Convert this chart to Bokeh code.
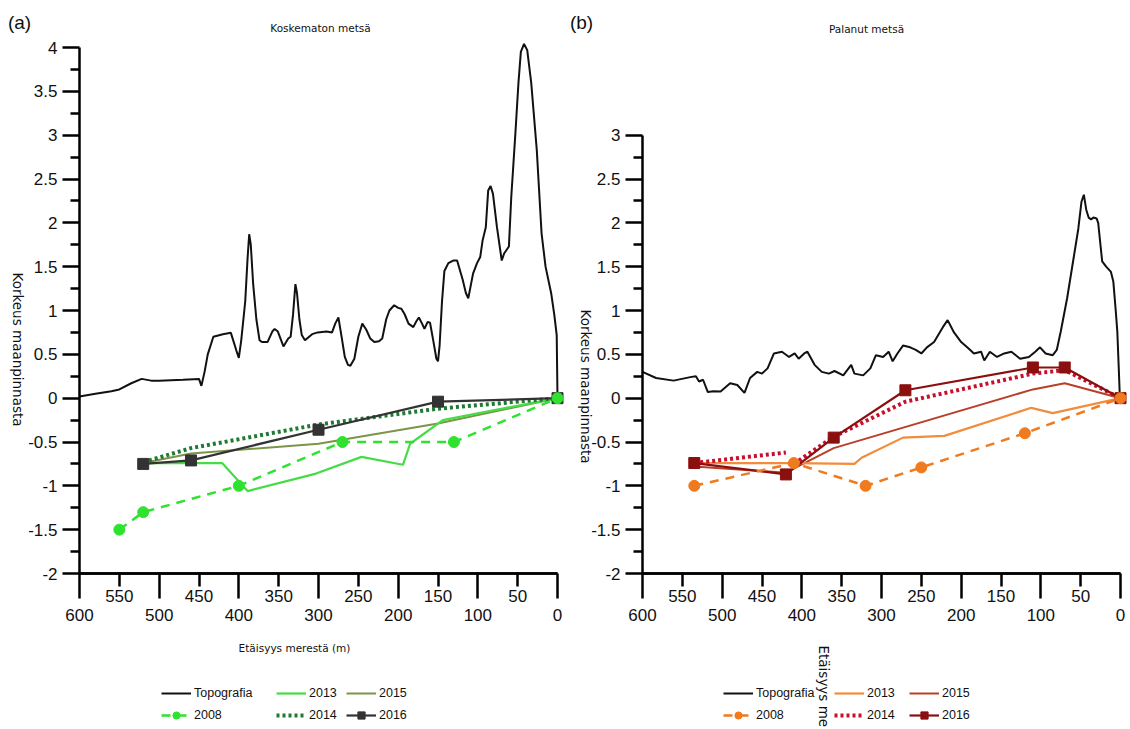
import math
from bokeh.plotting import figure
from bokeh.models import Range1d, LinearAxis, FixedTicker, Label, Legend, LegendItem
from bokeh.layouts import row
from bokeh.embed import file_html
from bokeh.resources import INLINE

# ---------------- data: panel (a) Koskematon metsä ----------------
a_topo_x = [600, 580, 560, 550, 535, 522, 510, 500, 470, 450, 447, 443, 439, 432, 420, 410, 403, 400, 397, 392,
            389, 387, 385, 382, 378, 374, 371, 364, 358, 355, 351, 344, 338, 335, 332, 329, 327, 324, 321, 317,
            308, 301, 290, 283, 279, 275, 271, 267, 263, 260, 255, 250, 245, 240, 235, 230, 224, 220, 215, 211,
            205, 200, 196, 192, 187, 181, 177, 174, 170, 167, 163, 160, 156, 152, 150, 148, 145, 142, 137, 131,
            126, 119, 115, 112, 106, 101, 97, 94, 90, 87, 84, 81, 76, 70, 67, 61, 58, 53, 49, 46,
            42, 38, 33, 26, 20, 15, 8, 4, 1, 0]
a_topo_y = [0.02, 0.05, 0.08, 0.10, 0.17, 0.22, 0.20, 0.20, 0.21, 0.22, 0.14, 0.30, 0.50, 0.70, 0.73, 0.745, 0.54, 0.46, 0.66, 1.10,
            1.60, 1.87, 1.75, 1.30, 0.90, 0.66, 0.64, 0.64, 0.76, 0.79, 0.76, 0.59, 0.68, 0.70, 0.95, 1.30, 1.20, 0.90, 0.72, 0.66,
            0.73, 0.75, 0.76, 0.75, 0.85, 0.92, 0.70, 0.47, 0.38, 0.37, 0.45, 0.70, 0.85, 0.78, 0.68, 0.64, 0.65, 0.68, 0.90, 1.00,
            1.06, 1.03, 1.02, 0.96, 0.85, 0.81, 0.88, 0.92, 0.85, 0.79, 0.87, 0.86, 0.66, 0.45, 0.42, 0.60, 1.10, 1.45, 1.54, 1.57,
            1.57, 1.35, 1.20, 1.14, 1.42, 1.54, 1.61, 1.80, 1.95, 2.37, 2.42, 2.33, 1.95, 1.57, 1.65, 1.73, 2.30, 3.00, 3.60, 3.95,
            4.04, 3.97, 3.60, 2.83, 1.88, 1.50, 1.20, 0.95, 0.72, 0.0]
a_2008_x = [550, 520, 400, 270, 130, 0]
a_2008_y = [-1.50, -1.30, -1.00, -0.50, -0.50, 0.0]
a_2013_x = [520, 421, 389, 303, 246, 194, 185, 144, 0]
a_2013_y = [-0.74, -0.74, -1.06, -0.86, -0.67, -0.76, -0.52, -0.25, 0.0]
a_2014_x = [520, 460, 300, 150, 0]
a_2014_y = [-0.73, -0.57, -0.30, -0.12, 0.0]
a_2015_x = [520, 460, 300, 150, 0]
a_2015_y = [-0.74, -0.63, -0.52, -0.29, 0.0]
a_2016_x = [520, 460, 300, 150, 0]
a_2016_y = [-0.75, -0.71, -0.36, -0.04, 0.0]

# ---------------- data: panel (b) Palanut metsä ----------------
nan = float("nan")
b_topo_x = [600, 583, 561, 540, 533, 529, 524, 518, 511, 502, 490, 481, 472, 465, 456, 450, 443, 435, 425, 416,
            409, 404, 397, 393, 384, 375, 366, 359, 348, 338, 334, 323, 314, 307, 298, 291, 286, 280, 273, 264,
            257, 250, 243, 234, 223, 217, 209, 200, 191, 184, 175, 171, 164, 155, 146, 137, 126, 115, 107, 101,
            94, 85, 80, 75, 67, 59, 53, 49, 46, 43, 40, 37, 34, 30, 28, 23, 18, 12, 9, 6,
            4, 2, 1, 0]
b_topo_y = [0.30, 0.23, 0.20, 0.24, 0.25, 0.19, 0.21, 0.07, 0.08, 0.075, 0.17, 0.15, 0.06, 0.23, 0.30, 0.28, 0.34, 0.51, 0.53, 0.47,
            0.51, 0.45, 0.51, 0.53, 0.38, 0.30, 0.28, 0.31, 0.26, 0.38, 0.28, 0.26, 0.34, 0.49, 0.47, 0.53, 0.42, 0.51, 0.60, 0.58,
            0.55, 0.51, 0.58, 0.64, 0.81, 0.89, 0.75, 0.64, 0.57, 0.51, 0.53, 0.43, 0.53, 0.47, 0.51, 0.53, 0.45, 0.47, 0.53, 0.58,
            0.51, 0.49, 0.55, 0.76, 1.14, 1.59, 1.93, 2.24, 2.32, 2.15, 2.06, 2.04, 2.06, 2.05, 2.00, 1.56, 1.50, 1.44, 1.33, 1.00,
            0.76, 0.30, 0.05, 0.0]
b_2008_x = [535, 410, 320, 250, 120, 0]
b_2008_y = [-1.00, -0.74, -1.00, -0.79, -0.40, 0.0]
b_2013_x = [535, 410, 334, 325, 273, 221, 112, 85, 0]
b_2013_y = [-0.74, -0.74, -0.75, -0.68, -0.45, -0.43, -0.11, -0.17, 0.0]
b_2014_x = [535, 420, nan, 410, 360, 270, 110, 70, 0]
b_2014_y = [-0.74, -0.62, nan, -0.75, -0.44, -0.04, 0.28, 0.32, 0.0]
b_2015_x = [535, 420, 360, 110, 70, 0]
b_2015_y = [-0.78, -0.85, -0.57, 0.10, 0.17, 0.0]
b_2016_x = [535, 420, 360, 270, 110, 70, 0]
b_2016_y = [-0.74, -0.87, -0.45, 0.09, 0.35, 0.35, 0.0]

# ---------------- ticks / texts ----------------
x_major = [600, 500, 400, 300, 200, 100, 0]
x_major_labels = ["600", "500", "400", "300", "200", "100", "0"]
x_half = [550, 450, 350, 250, 150, 50]
x_half_labels = ["550", "450", "350", "250", "150", "50"]
a_yticks = [4, 3.5, 3, 2.5, 2, 1.5, 1, 0.5, 0, -0.5, -1, -1.5, -2]
a_ylabels = ["4", "3.5", "3", "2.5", "2", "1.5", "1", "0.5", "0", "-0.5", "-1", "-1.5", "-2"]
b_yticks = [3, 2.5, 2, 1.5, 1, 0.5, 0, -0.5, -1, -1.5, -2]
b_ylabels = ["3", "2.5", "2", "1.5", "1", "0.5", "0", "-0.5", "-1", "-1.5", "-2"]
series_names = ["Topografia", "2008", "2013", "2014", "2015", "2016"]
a_colors = ["#111111", "#2fe22f", "#45dc45", "#1f7a33", "#7b9448", "#333333"]
b_colors = ["#111111", "#f07a1e", "#f28c3a", "#c8102e", "#b8402a", "#8b0f0f"]

TICKF = "Liberation Sans"
SANS = "DejaVu Sans"
H = 728
KX = 478 / 600.0      # px per metre
KY = 526 / 6.0        # px per height unit
AXIS_Y_PX = 573       # pixel row of y = -2
Y4_PX = 47            # pixel row of y = 4


def style_labels(ax):
    ax.major_label_text_font = TICKF
    ax.major_label_text_font_size = "17px"
    ax.major_label_text_color = "#111111"


def make_panel(width, axis_left_px, zero_px, ytop, yticks, ylabels):
    x0 = 600 + axis_left_px / KX
    x1 = -(width - zero_px) / KX
    y_top = 4 + Y4_PX / KY
    y_bot = -2 - (H - AXIS_Y_PX) / KY
    p = figure(width=width, height=H, x_range=Range1d(x0, x1), y_range=Range1d(y_bot, y_top),
               output_backend="svg", toolbar_location=None, x_axis_type=None, y_axis_type=None,
               min_border=0, min_border_left=0, min_border_right=0, min_border_top=0, min_border_bottom=0)
    p.title.visible = False
    p.outline_line_color = None
    p.grid.visible = False

    minor_y = [t - 0.25 for t in yticks if t > -2]
    yax = LinearAxis(ticker=FixedTicker(ticks=yticks, minor_ticks=minor_y), bounds=(-2, ytop),
                     fixed_location=600)
    yax.major_label_overrides = {t: s for t, s in zip(yticks, ylabels)}
    yax.axis_line_width = 2.5
    yax.major_tick_line_width = 2.5
    yax.minor_tick_line_width = 2.5
    yax.major_tick_out = 17
    yax.major_tick_in = 0
    yax.minor_tick_out = 9
    yax.minor_tick_in = 0
    yax.major_label_standoff = 5
    style_labels(yax)
    p.add_layout(yax, "left")

    # long ticks at the hundreds (no labels)
    xc = LinearAxis(ticker=FixedTicker(ticks=x_major, minor_ticks=[]), bounds=(0, 600), fixed_location=-2)
    xc.axis_line_width = 2.5
    xc.major_tick_line_width = 2.5
    xc.major_tick_out = 25
    xc.major_tick_in = 0
    xc.minor_tick_line_color = None
    xc.major_label_text_color = None
    xc.major_label_text_font_size = "1px"
    p.add_layout(xc, "below")

    # short ticks + raised labels at the fifties
    xa = LinearAxis(ticker=FixedTicker(ticks=x_half, minor_ticks=[]), bounds=(0, 600), fixed_location=-2)
    xa.major_label_overrides = {t: s for t, s in zip(x_half, x_half_labels)}
    xa.axis_line_width = 2.5
    xa.major_tick_line_width = 2.5
    xa.minor_tick_line_color = None
    xa.major_tick_out = 13
    xa.major_tick_in = 0
    xa.major_label_standoff = 3
    style_labels(xa)
    p.add_layout(xa, "below")

    # lowered labels at the hundreds
    xb = LinearAxis(ticker=FixedTicker(ticks=x_major, minor_ticks=[]),
                    fixed_location=-2 - (608 - AXIS_Y_PX) / KY)
    xb.major_label_overrides = {t: s for t, s in zip(x_major, x_major_labels)}
    xb.axis_line_color = None
    xb.major_tick_line_color = None
    xb.minor_tick_line_color = None
    xb.major_tick_out = 0
    xb.major_tick_in = 0
    xb.major_label_standoff = 0
    style_labels(xb)
    p.add_layout(xb, "below")
    return p


def draw_series(p, colors, topo, s08, s13, s14, s15, s16):
    r = {}
    r["Topografia"] = [p.line(topo[0], topo[1], line_color=colors[0], line_width=2)]
    r["2015"] = [p.line(s15[0], s15[1], line_color=colors[4], line_width=2)]
    r["2013"] = [p.line(s13[0], s13[1], line_color=colors[2], line_width=2.2)]
    r["2014"] = [p.line(s14[0], s14[1], line_color=colors[3], line_width=4, line_dash="3 3")]
    r["2016"] = [p.line(s16[0], s16[1], line_color=colors[5], line_width=2.2),
                 p.scatter(s16[0], s16[1], marker="square", size=11, fill_color=colors[5], line_color=colors[5])]
    r["2008"] = [p.line(s08[0], s08[1], line_color=colors[1], line_width=2.5, line_dash="9 7"),
                 p.scatter(s08[0], s08[1], marker="circle", size=11, fill_color=colors[1], line_color=colors[1])]
    return r


def add_text(p, cx, cy, text, font, size, angle=0.0, align="center", baseline="middle", color="#111111"):
    p.add_layout(Label(x=cx, y=H - cy, x_units="screen", y_units="screen", text=text,
                       text_font=font, text_font_size=size, angle=angle, text_align=align,
                       text_baseline=baseline, text_color=color))


def add_legends(p, renderers, cols_x):
    groups = [["Topografia", "2008"], ["2013", "2014"], ["2015", "2016"]]
    for gx, names in zip(cols_x, groups):
        items = [LegendItem(label=n, renderers=renderers[n]) for n in names]
        lg = Legend(items=items, location=(gx, H - 724), orientation="vertical",
                    padding=0, margin=0, spacing=4, glyph_width=30, glyph_height=18, label_height=18,
                    label_standoff=3, label_text_font=TICKF, label_text_font_size="12.5px",
                    label_text_color="#111111", border_line_color=None, background_fill_alpha=0)
        p.add_layout(lg, "center")


# ---------------- panel (a) ----------------
WA = 565
pa = make_panel(WA, 79, 557, 4, a_yticks, a_ylabels)
ra = draw_series(pa, a_colors, (a_topo_x, a_topo_y), (a_2008_x, a_2008_y), (a_2013_x, a_2013_y),
                 (a_2014_x, a_2014_y), (a_2015_x, a_2015_y), (a_2016_x, a_2016_y))
add_text(pa, 19, 22, "(a)", TICKF, "19px")
add_text(pa, 320, 27, "Koskematon metsä", SANS, "10.5px")
add_text(pa, 17, 349, "Korkeus maanpinnasta", SANS, "13.5px", angle=-math.pi / 2)
add_text(pa, 294, 647, "Etäisyys merestä (m)", SANS, "10.5px")
add_legends(pa, ra, [161, 276, 346])

# ---------------- panel (b) ----------------
WB = 563
OFF = WA
pb = make_panel(WB, 642 - OFF, 1120 - OFF, 3, b_yticks, b_ylabels)
rb = draw_series(pb, b_colors, (b_topo_x, b_topo_y), (b_2008_x, b_2008_y), (b_2013_x, b_2013_y),
                 (b_2014_x, b_2014_y), (b_2015_x, b_2015_y), (b_2016_x, b_2016_y))
add_text(pb, 581 - OFF, 22, "(b)", TICKF, "19px")
add_text(pb, 866 - OFF, 28, "Palanut metsä", SANS, "10.5px")
add_text(pb, 585 - OFF, 386, "Korkeus maanpinnasta", SANS, "13.5px", angle=-math.pi / 2)
add_text(pb, 823 - OFF, 645, "Etäisyys merestä (m)", SANS, "13.5px", angle=-math.pi / 2, align="left")
add_legends(pb, rb, [723 - OFF, 834 - OFF, 909 - OFF])

layout = row(pa, pb, spacing=0)
open("out.html", "w").write(file_html(layout, INLINE))
